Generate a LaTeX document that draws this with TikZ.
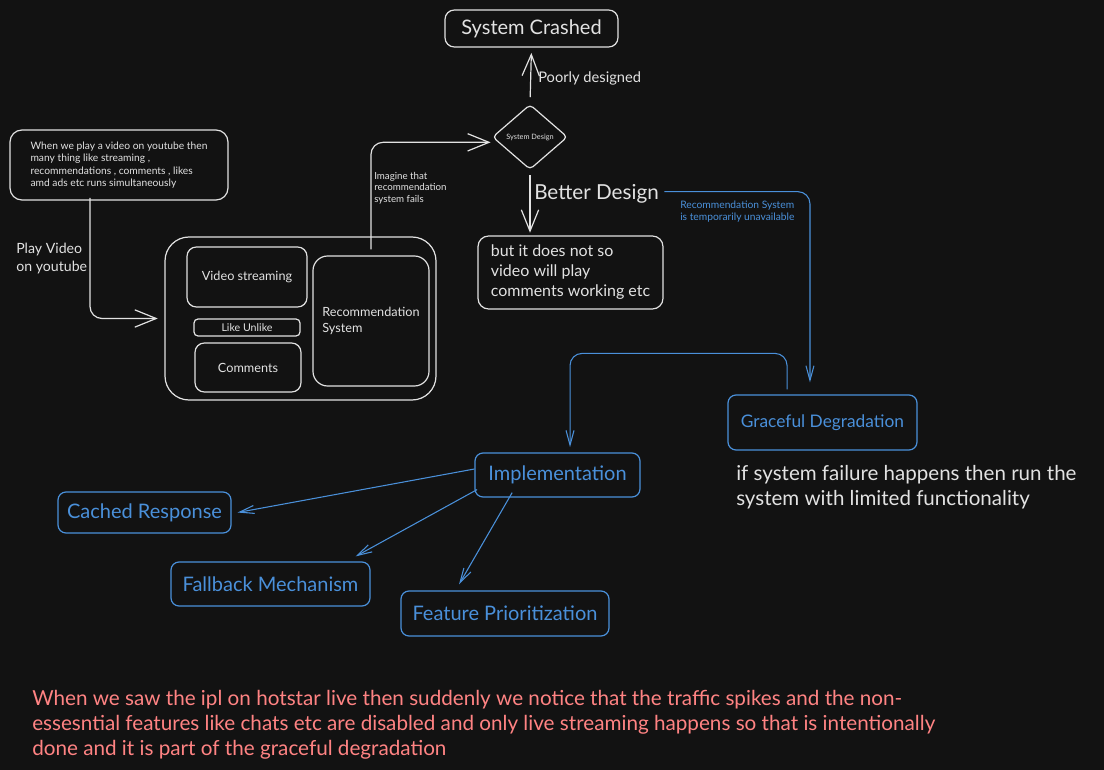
\documentclass[tikz,border=0pt]{standalone}
\usepackage{fontspec}
\setmainfont{Lato}
\usetikzlibrary{positioning,shapes.geometric,arrows.meta}
\definecolor{canvas}{HTML}{121212}
\definecolor{chalk}{HTML}{E2E2E2}
\definecolor{sky}{HTML}{4A90DA}
\definecolor{salmon}{HTML}{FF8383}
\begin{document}
\begin{tikzpicture}[x=0.75pt,y=-0.75pt,
        box/.style={draw=chalk,text=chalk,line width=0.9pt,rounded corners=7pt,inner sep=0pt},
        bluebox/.style={draw=sky,text=sky,line width=0.9pt,rounded corners=6pt,inner sep=0pt,font=\fontsize{15}{18}\selectfont},
        note/.style={text=chalk,align=left,inner sep=0pt},
        link/.style={draw=chalk,line width=0.9pt,rounded corners=9pt,-{Straight Barb[length=16pt,width=13pt]}},
        bluelink/.style={draw=sky,line width=0.8pt,rounded corners=9pt,-{Straight Barb[length=11pt,width=6pt]}},
        ]
    \fill[canvas] (0,0) rectangle (1104,770);
    % top of the picture
    \node (crash) [box, minimum width=129.75pt, minimum height=27.75pt, font=\fontsize{15}{18}\selectfont] at (531.5,28.5) {System Crashed};
    \node (sd) [box, diamond, rounded corners=3pt, minimum width=56.25pt, minimum height=48.75pt, font=\fontsize{5.5}{6.5}\selectfont] at (530,137) {System Design};
    \node (poor) [note, anchor=base west, font=\fontsize{11}{13}\selectfont] at (538,83) {Poorly designed};
    \node (better) [note, anchor=base west, font=\fontsize{15.5}{18}\selectfont] at (534,200) {Better Design};
    \node (butnot) [box, rounded corners=8pt, minimum width=138.75pt, minimum height=54.75pt, align=left, font=\fontsize{12}{15}\selectfont] at (570.5,272.5)
        {but it does not so\\video will play\\comments working etc};
    % youtube side
    \node (intro) [box, rounded corners=9pt, minimum width=163.5pt, minimum height=52.5pt, align=left, font=\fontsize{7.7}{9.4}\selectfont] at (119,165)
        {When we play a video on youtube then\\many thing like streaming ,\\recommendations , comments , likes\\amd ads etc runs simultaneously};
    \node (play) [note, anchor=north west, font=\fontsize{10.6}{13.5}\selectfont] at (16,243) {Play Video\\on youtube};
    \node (app) [box, rounded corners=18pt, minimum width=203.25pt, minimum height=122.25pt] at (300.5,318.5) {};
    \node (video) [box, minimum width=90pt, minimum height=45pt, font=\fontsize{9.5}{11}\selectfont] at (247,277) {Video streaming};
    \node (like) [box, rounded corners=3pt, minimum width=79.5pt, minimum height=12.75pt, font=\fontsize{8}{9}\selectfont] at (247,327.5) {Like Unlike};
    \node (comments) [box, minimum width=79.5pt, minimum height=36.75pt, font=\fontsize{9.5}{11}\selectfont] at (248,367.5) {Comments};
    \node (rec) [box, rounded corners=11pt, minimum width=87pt, minimum height=97.5pt, align=left, font=\fontsize{9.5}{12}\selectfont] at (371,321)
        {Recommendation\\System};
    \node (fails) [note, anchor=north west, font=\fontsize{7.3}{8.6}\selectfont] at (374,172)
        {Imagine that\\recommendation\\system fails};
    % graceful degradation side
    \node (unavail) [note, text=sky, anchor=north west, font=\fontsize{7.7}{9}\selectfont] at (680,201)
        {Recommendation System\\is temporarily unavailable};
    \node (grace) [bluebox, font=\fontsize{13}{15}\selectfont, minimum width=141.75pt, minimum height=41.25pt] at (822.5,422.5) {Graceful Degradation};
    \node (limited) [note, anchor=north west, font=\fontsize{15.4}{18.75}\selectfont] at (736,465)
        {if system failure happens then run the\\system with limited functionality};
    \node (impl) [bluebox, minimum width=123.75pt, minimum height=33pt] at (557.5,475) {Implementation};
    \node (cached) [bluebox, minimum width=129.75pt, minimum height=30.75pt] at (144.5,512.5) {Cached Response};
    \node (fallback) [bluebox, minimum width=149.25pt, minimum height=33pt] at (270.5,584) {Fallback Mechanism};
    \node (feature) [bluebox, minimum width=156pt, minimum height=33.75pt] at (505,613.5) {Feature Prioritization};
    \node (ipl) [note, text=salmon, anchor=north west, font=\fontsize{15.5}{18.75}\selectfont] at (32,690)
        {When we saw the ipl on hotstar live then suddenly we notice that the traffic spikes and the non-\\
         essesntial features like chats etc are disabled and only live streaming happens so that is intentionally\\
         done and it is part of the graceful degradation};
    % connectors
    \draw[link, shorten >=5pt] ([xshift=-21.75pt,yshift=2pt]intro.south) |- (app.west);
    \draw[link, shorten >=1pt] ([yshift=4.5pt]rec.north) |- ([yshift=-4pt]sd.west);
    \draw[link, shorten <=5pt, shorten >=4pt] (sd.north) -- (crash.south);
    \draw[link, shorten <=4pt, shorten >=2pt] (sd.south) -- (sd.south |- butnot.north);
    \draw[bluelink, shorten >=9pt] ([xshift=4pt,yshift=2pt]better.east) -| ([xshift=-9.4pt]grace.north);
    \draw[bluelink, shorten >=4pt] ([xshift=-26.6pt,yshift=3.75pt]grace.north) -- ++(0,-36) -| ([xshift=9.4pt]impl.north);
    \draw[bluelink, rounded corners=0pt] ([yshift=4.5pt]impl.west) -- ([xshift=4.5pt]cached.east);
    \draw[bluelink, rounded corners=0pt] ([xshift=2pt,yshift=6pt]impl.south west) -- ([xshift=-11.25pt,yshift=3.75pt]fallback.north east);
    \draw[bluelink, rounded corners=0pt] ([xshift=-34pt,yshift=3.75pt]impl.south) -- ([xshift=-34.5pt,yshift=4.5pt]feature.north);
\end{tikzpicture}
\end{document}
